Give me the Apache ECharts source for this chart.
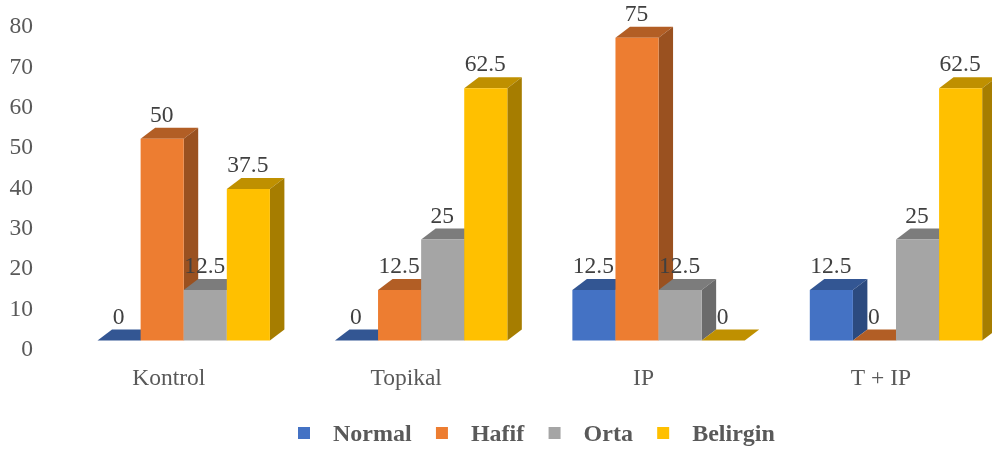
<!DOCTYPE html>
<html>
<head>
<meta charset="utf-8">
<style>html,body{margin:0;padding:0;background:#fff;overflow:hidden;width:992px;height:450px}#chart{width:1030px;height:450px}</style>
<script src="https://cdn.jsdelivr.net/npm/echarts@6/dist/echarts.min.js"></script>
</head>
<body>
<div id="chart"></div>
<script>
const categories = ['Kontrol', 'Topikal', 'IP', 'T + IP'];
const normal = [0, 0, 12.5, 12.5];
const hafif = [50, 12.5, 75, 0];
const orta = [12.5, 25, 12.5, 25];
const belirgin = [37.5, 62.5, 0, 62.5];
const seriesNames = ['Normal', 'Hafif', 'Orta', 'Belirgin'];
const frontColors = ['#4472C4', '#ED7D31', '#A5A5A5', '#FFC000'];
const topColors = ['#335693', '#B25E25', '#7C7C7C', '#BF9000'];
const sideColors = ['#2C4A7F', '#9A5120', '#6B6B6B', '#A67D00'];

const FONT = '"Liberation Serif", "Times New Roman", serif';
const TEXT = '#595959';
const DEPTH_X = 14.5;
const DEPTH_Y = 11;
const BAR_RATIO = 0.1815; // share of a category band taken by one bar

// Each bar is a front rectangle plus a skewed top and side face.
function drawBar(seriesIndex) {
  return function (params, api) {
    const idx = api.value(0);
    const val = api.value(1);
    const band = api.size([1, 0])[0];
    const w = band * BAR_RATIO;
    const center = api.coord([idx, 0])[0];
    const x0 = center + (seriesIndex - 2) * w;
    const x1 = x0 + w;
    const base = api.coord([idx, 0])[1];
    const y = api.coord([idx, val])[1];
    const z = seriesIndex * 3 + 1;
    const children = [];
    if (val > 0) {
      children.push({
        type: 'polygon', z2: z + 1,
        shape: { points: [[x1, y], [x1 + DEPTH_X, y - DEPTH_Y], [x1 + DEPTH_X, base - DEPTH_Y], [x1, base]] },
        style: { fill: sideColors[seriesIndex] }
      });
      children.push({
        type: 'rect', z2: z + 2,
        shape: { x: x0, y: y, width: w, height: base - y },
        style: { fill: frontColors[seriesIndex] }
      });
    }
    children.push({
      type: 'polygon', z2: z,
      shape: { points: [[x0, y], [x1, y], [x1 + DEPTH_X, y - DEPTH_Y], [x0 + DEPTH_X, y - DEPTH_Y]] },
      style: { fill: topColors[seriesIndex] }
    });
    children.push({
      type: 'text', z2: 100,
      style: {
        text: String(val), x: (x0 + x1) / 2 - 0.5, y: y - 23,
        align: 'center', verticalAlign: 'middle',
        fill: '#404040', font: '23.5px ' + FONT
      }
    });
    return { type: 'group', children: children };
  };
}

const seriesValues = [normal, hafif, orta, belirgin];

const chart = echarts.init(document.getElementById('chart'), null, { renderer: 'canvas' });
chart.setOption({
  animation: false,
  backgroundColor: '#fff',
  grid: { left: 65, width: 949.7, top: 17.5, height: 323, containLabel: false },
  legend: {
    left: 298, top: 423, padding: 0, icon: 'rect', itemWidth: 12, itemHeight: 12, itemGap: 24.3,
    selectedMode: false,
    data: seriesNames,
    formatter: '{n|{name}}',
    textStyle: {
      rich: {
        n: { color: TEXT, fontFamily: FONT, fontSize: 24, fontWeight: 'bold', padding: [4, 0, 0, 18] }
      }
    }
  },
  xAxis: {
    type: 'category', data: categories,
    axisLine: { show: false }, axisTick: { show: false }, splitLine: { show: false },
    axisLabel: { color: TEXT, fontFamily: FONT, fontSize: 23.5, margin: 26, padding: [0, 30, 0, 0], interval: 0 }
  },
  yAxis: {
    type: 'value', min: 0, max: 80, interval: 10,
    axisLine: { show: false }, axisTick: { show: false }, splitLine: { show: false },
    axisLabel: { color: TEXT, fontFamily: FONT, fontSize: 23.5, margin: 32, verticalAlign: 'top', lineHeight: 19 }
  },
  series: seriesNames.map(function (name, i) {
    return {
      name: name, type: 'custom', clip: false,
      coordinateSystem: 'cartesian2d',
      itemStyle: { color: frontColors[i] },
      encode: { x: 0, y: 1 },
      data: seriesValues[i].map(function (v, c) { return [c, v]; }),
      renderItem: drawBar(i)
    };
  })
});
</script>
</body>
</html>
